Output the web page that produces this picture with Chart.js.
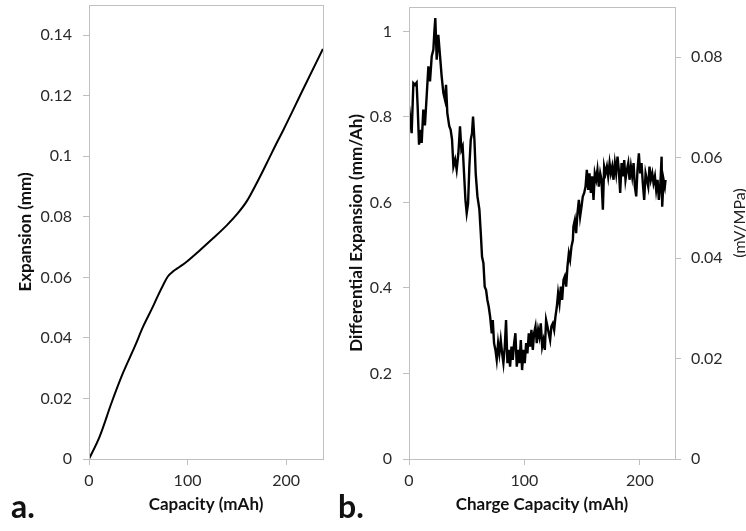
<!DOCTYPE html>
<html>
<head>
<meta charset="utf-8">
<script src="https://cdn.jsdelivr.net/npm/chart.js@4/dist/chart.umd.min.js"></script>
<style>
  html, body { margin:0; padding:0; background:#fff; }
  #wrap { position:relative; width:746px; height:531px; overflow:hidden; }
  canvas { position:absolute; top:0; }
  .lbl { position:absolute; font-family: Lato, "Open Sans", sans-serif; font-weight:bold; font-size:32px; color:#111; line-height:1; }
</style>
</head>
<body>
<div id="wrap">
  <canvas id="ca" width="340" height="531" style="left:0"></canvas>
  <canvas id="cb" width="406" height="531" style="left:340px"></canvas>
  <div class="lbl" style="left:11px; top:490px;">a.</div>
  <div class="lbl" style="left:338px; top:490px;">b.</div>
</div>
<script>
// ---- Panel a: Expansion vs Capacity ----
const capacity  = [0, 10.9, 22.8, 34.6, 46.5, 55.0, 65.1, 70.0, 75.3, 80.0, 85.5, 92.0, 99.1, 112.6, 126.2, 139.8, 150.0, 160.2, 170.3, 180.5, 190.6, 197.4, 217.7, 237.4];
const expansion = [0, 0.0075, 0.0185, 0.0285, 0.0372, 0.0438, 0.0505, 0.054, 0.0575, 0.0603, 0.062, 0.0635, 0.0652, 0.069, 0.073, 0.0772, 0.0808, 0.0852, 0.0912, 0.0978, 0.1045, 0.1088, 0.1224, 0.1355];

// ---- Panel b: Differential Expansion vs Charge Capacity ----
const chargeCapacity = [0,2.3,3.8,5.2,6.6,7.5,8.7,10.1,11.0,12.4,13.8,15.3,16.8,18.2,19.7,21.1,22.0,22.8,24.0,25.4,26.9,28.3,29.8,31.2,32.1,33.2,34.9,36.1,37.3,38.5,40.0,41.3,42.8,44.2,45.4,46.5,47.7,48.9,50.0,51.2,52.3,53.5,54.6,55.5,56.7,57.8,59.3,61.0,62.2,63.3,64.5,65.6,66.8,67.9,69.1,70.3,71.7,72.6,73.7,74.9,76.0,77.2,78.3,79.5,80.7,81.8,83.0,84.1,85.3,86.4,87.6,88.8,89.9,91.1,92.2,93.4,94.6,95.7,96.9,98.0,99.2,100.3,101.5,102.6,103.8,105.0,106.1,107.3,108.4,109.6,110.7,111.9,113.0,114.2,115.4,116.5,117.7,118.8,120.0,121.1,122.3,123.4,124.6,125.8,126.9,128.1,129.2,130.4,131.6,132.7,133.9,135.0,136.2,137.3,138.5,139.6,140.8,142.0,142.5,143.7,144.8,146.0,147.2,148.3,149.5,150.6,151.8,153.0,154.1,155.3,156.4,157.6,158.7,159.9,161.0,162.2,163.3,164.5,165.7,166.8,168.0,169.1,170.3,171.5,172.6,173.8,174.9,176.1,177.2,178.4,179.5,180.7,181.8,183.0,184.2,185.3,186.5,187.6,188.8,190.0,191.1,192.3,193.4,194.6,195.7,196.9,198.0,199.2,200.3,201.5,202.6,203.8,205.0,206.1,207.3,208.4,209.6,210.8,211.9,213.1,214.2,215.4,216.5,217.7,218.9,219.4,220.6,221.7,222.3];
const diffExpansion  = [0.825,0.762,0.879,0.875,0.88,0.824,0.735,0.77,0.739,0.817,0.78,0.848,0.918,0.883,0.942,0.957,1.0,1.031,0.934,0.992,0.942,0.895,0.856,0.84,0.875,0.809,0.778,0.77,0.747,0.684,0.70,0.676,0.715,0.778,0.723,0.731,0.668,0.606,0.575,0.598,0.684,0.746,0.762,0.801,0.746,0.668,0.614,0.583,0.528,0.473,0.458,0.403,0.395,0.372,0.356,0.333,0.294,0.325,0.271,0.255,0.232,0.271,0.247,0.278,0.247,0.224,0.263,0.325,0.224,0.255,0.216,0.263,0.232,0.271,0.294,0.216,0.255,0.224,0.278,0.208,0.255,0.224,0.271,0.247,0.294,0.263,0.302,0.255,0.294,0.31,0.271,0.302,0.286,0.317,0.263,0.278,0.255,0.325,0.31,0.294,0.278,0.31,0.317,0.302,0.333,0.356,0.388,0.364,0.403,0.372,0.419,0.427,0.403,0.45,0.481,0.466,0.497,0.512,0.544,0.559,0.528,0.575,0.606,0.567,0.59,0.614,0.622,0.637,0.676,0.629,0.668,0.622,0.661,0.606,0.668,0.653,0.676,0.637,0.668,0.653,0.583,0.684,0.668,0.684,0.661,0.692,0.668,0.684,0.653,0.692,0.668,0.707,0.676,0.622,0.692,0.661,0.699,0.653,0.676,0.692,0.653,0.684,0.661,0.692,0.637,0.614,0.676,0.715,0.668,0.692,0.645,0.606,0.668,0.653,0.637,0.684,0.653,0.668,0.645,0.661,0.629,0.653,0.606,0.637,0.707,0.59,0.653,0.637,0.653];

const FONT = 'Lato, "Open Sans", sans-serif';
const GRID = '#c0c0c0';
const TICKC = '#2a2a2a';
const fmt = v => String(+(+v).toFixed(4));
const keepMultiples = step => s => { s.ticks = s.ticks.filter(t => Math.abs(t.value/step - Math.round(t.value/step)) < 1e-6); };

const frame = {
  id: 'frame',
  afterDraw(chart) {
    const {ctx, chartArea: a} = chart;
    ctx.save();
    ctx.strokeStyle = GRID; ctx.lineWidth = 1;
    ctx.strokeRect(Math.round(a.left)+0.5, Math.round(a.top)+0.5, Math.round(a.right-a.left), Math.round(a.bottom-a.top));
    ctx.restore();
  }
};

function axisX(max, title) {
  return {
    type: 'linear', min: 0, max: max,
    ticks: { stepSize: 100, includeBounds: false, color: TICKC, font: {family: FONT, size: 16}, padding: 6, callback: fmt, maxRotation: 0, autoSkip: false },
    afterBuildTicks: keepMultiples(100),
    grid: { drawOnChartArea: false, drawTicks: true, tickLength: 6, color: GRID },
    border: { display: true, color: GRID },
    title: { display: true, text: title, color: '#111', font: {family: FONT, size: 17, weight: 'bold'}, padding: {top: 0, bottom: 16} },
    afterFit: s => { s.height = 72; s.paddingLeft = 0; s.paddingRight = 0; }
  };
}

function axisY(pos, max, step, width, pad, title, titlePad) {
  const o = {
    type: 'linear', position: pos, min: 0, max: max,
    ticks: { stepSize: step, includeBounds: false, color: TICKC, font: {family: FONT, size: 16}, padding: pad, callback: fmt, autoSkip: false },
    afterBuildTicks: keepMultiples(step),
    grid: { drawOnChartArea: false, drawTicks: true, tickLength: 6, color: GRID },
    border: { display: true, color: GRID },
    afterFit: s => { s.width = width; s.paddingTop = 0; s.paddingBottom = 0; }
  };
  if (title) o.title = { display: true, text: title, color: '#111', font: {family: FONT, size: 17, weight: 'bold'}, padding: {top: titlePad, bottom: 0} };
  return o;
}

// Panel a
new Chart(document.getElementById('ca'), {
  type: 'line',
  data: { datasets: [{ data: capacity.map((x, i) => ({x, y: expansion[i]})), borderColor: '#000', borderWidth: 2, pointRadius: 0, cubicInterpolationMode: 'monotone', fill: false }] },
  options: {
    responsive: false, animation: false,
    layout: { padding: { top: 5, right: 17, left: 0, bottom: 0 } },
    plugins: { legend: { display: false }, tooltip: { enabled: false } },
    scales: {
      x: axisX(237.5, 'Capacity (mAh)'),
      y: axisY('left', 0.15, 0.02, 89, 11, 'Expansion (mm)', 15)
    }
  },
  plugins: [frame]
});

// Panel b
const rightTitle = {
  id: 'rightTitle',
  afterDraw(chart) {
    const {ctx} = chart;
    ctx.save();
    ctx.fillStyle = '#222';
    ctx.font = '16px ' + FONT;
    ctx.textAlign = 'center'; ctx.textBaseline = 'middle';
    ctx.translate(400, 223);
    ctx.rotate(-Math.PI/2);
    ctx.fillText('(mV/MPa)', 0, 0);
    ctx.restore();
  }
};

new Chart(document.getElementById('cb'), {
  type: 'line',
  data: { datasets: [{ data: chargeCapacity.map((x, i) => ({x, y: diffExpansion[i]})), borderColor: '#000', borderWidth: 2.4, pointRadius: 0, tension: 0, fill: false, yAxisID: 'y' }] },
  options: {
    responsive: false, animation: false,
    layout: { padding: { top: 7, right: 0, left: 0, bottom: 0 } },
    plugins: { legend: { display: false }, tooltip: { enabled: false } },
    scales: {
      x: axisX(230.5, 'Charge Capacity (mAh)'),
      y: axisY('left', 1.057, 0.2, 69, 11, 'Differential Expansion (mm/Ah)', 6),
      y1: axisY('right', 0.09, 0.02, 71, 10, null, 0)
    }
  },
  plugins: [frame, rightTitle]
});
</script>
</body>
</html>
